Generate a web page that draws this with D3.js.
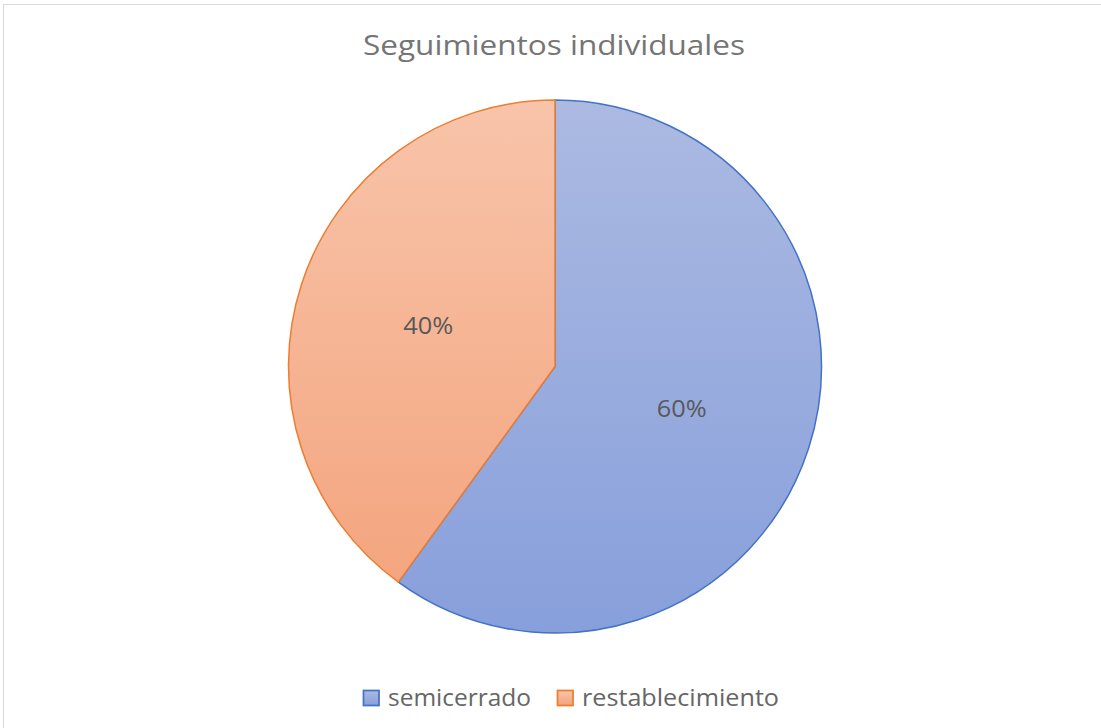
<!DOCTYPE html>
<html><head><meta charset="utf-8">
<script src="https://cdn.jsdelivr.net/npm/d3@7"></script>
<style>body{margin:0;background:#fff}svg{display:block}</style>
</head><body>
<svg id="c" width="1101" height="728"></svg>
<script>
const title = "Seguimientos individuales";
const categories = ["semicerrado", "restablecimiento"];
const values = [60, 40];
const labels = ["60%", "40%"];
const strokeColors = ["#4472c4", "#ed7d31"];
const gradTop = ["#acbae2", "#f8c4aa"];
const gradBottom = ["#879fdb", "#f3a27a"];

const svg = d3.select("#c");
const W = 1101, H = 728;
svg.append("rect").attr("x", 3.5).attr("y", 4.5).attr("width", W + 10).attr("height", H + 10)
  .attr("fill", "#fff").attr("stroke", "#d9d9d9").attr("stroke-width", 1);

const font = "'Open Sans', 'Noto Sans', sans-serif";
svg.append("text").attr("x", 554).attr("y", 55).attr("text-anchor", "middle")
  .attr("font-family", font).attr("font-size", 26.5).attr("fill", "#757575")
  .attr("textLength", 382).attr("lengthAdjust", "spacingAndGlyphs").text(title);

const cx = 555, cy = 366.5, r = 266.5;
const defs = svg.append("defs");
categories.forEach((c, i) => {
  const g = defs.append("linearGradient").attr("id", "g" + i)
    .attr("gradientUnits", "userSpaceOnUse").attr("x1", 0).attr("y1", -r).attr("x2", 0).attr("y2", r);
  g.append("stop").attr("offset", "0%").attr("stop-color", gradTop[i]);
  g.append("stop").attr("offset", "100%").attr("stop-color", gradBottom[i]);
  const lg = defs.append("linearGradient").attr("id", "lg" + i).attr("x1", 0).attr("y1", 0).attr("x2", 0).attr("y2", 1);
  lg.append("stop").attr("offset", "0%").attr("stop-color", gradTop[i]);
  lg.append("stop").attr("offset", "100%").attr("stop-color", gradBottom[i]);
});

const pie = d3.pie().sort(null).value(d => d)(values);
const arc = d3.arc().innerRadius(0).outerRadius(r);
const gp = svg.append("g").attr("transform", `translate(${cx},${cy})`);
gp.selectAll("path").data(pie).join("path")
  .attr("d", arc)
  .attr("fill", (d, i) => `url(#g${i})`)
  .attr("stroke", (d, i) => strokeColors[i]).attr("stroke-width", 1.5)
  .attr("stroke-linejoin", "round");

const labArc = d3.arc().innerRadius(r * 0.5).outerRadius(r * 0.5);
gp.selectAll("text.lab").data(pie).join("text").attr("class", "lab")
  .attr("transform", d => `translate(${labArc.centroid(d)})`)
  .attr("text-anchor", "middle").attr("dy", "0.36em")
  .attr("font-family", font).attr("font-size", 24.5).attr("fill", "#595959")
  .attr("textLength", 50).attr("lengthAdjust", "spacingAndGlyphs")
  .text((d, i) => labels[i]);

// legend
const legX = [363, 557];
const legW = [143, 197];
const lgG = svg.append("g");
categories.forEach((c, i) => {
  lgG.append("rect").attr("x", legX[i] + 0.5).attr("y", 690.5).attr("width", 15.5).attr("height", 15)
    .attr("fill", `url(#lg${i})`).attr("stroke", strokeColors[i]).attr("stroke-width", 1.75);
  lgG.append("text").attr("x", legX[i] + 25).attr("y", 706)
    .attr("font-family", font).attr("font-size", 24).attr("fill", "#666666")
    .attr("textLength", legW[i]).attr("lengthAdjust", "spacingAndGlyphs").text(c);
});
</script>
</body></html>
